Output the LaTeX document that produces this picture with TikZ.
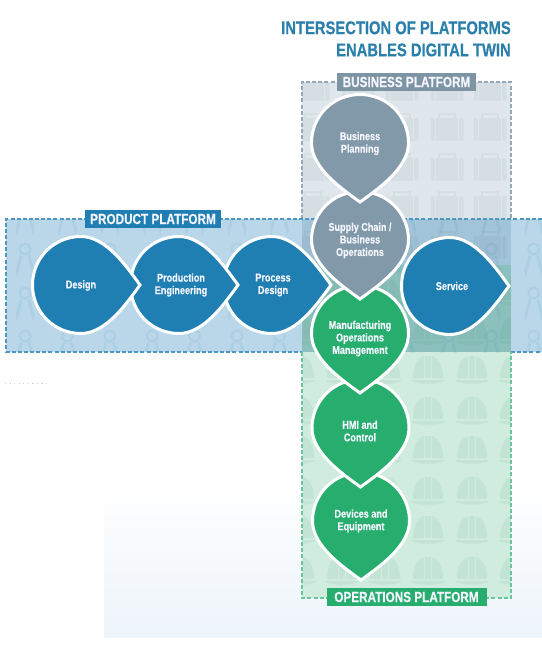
\documentclass[tikz,border=0pt]{standalone}
\usepackage{fontspec}
\setmainfont[FakeStretch=0.8,BoldFeatures={FakeStretch=0.8,FakeBold=0.35}]{Liberation Sans}
\definecolor{pblue}{HTML}{1F7FB3}
\definecolor{pgray}{HTML}{8199A8}
\definecolor{pgreen}{HTML}{27AE6E}
\definecolor{titleblue}{HTML}{2A80AB}
\definecolor{zbiz}{HTML}{DFE7EC}
\definecolor{zprod}{HTML}{B9D7E8}
\definecolor{zops}{HTML}{D0ECDF}
\definecolor{zover}{HTML}{A2C4D8}
\definecolor{zmix}{HTML}{8CC0BC}
\definecolor{washend}{HTML}{EDF4FA}
\tikzset{
  x=0.75pt,y=-0.75pt,
  dropshape/.style={draw=white,line width=2.25pt,miter limit=10,line join=miter,fill=#1},
  droptext/.style={text=white!96!blue,font=\bfseries\fontsize{8.5}{9.4}\selectfont,align=center,inner sep=0pt},
  platlabel/.style={text=white!96!blue,font=\bfseries\fontsize{11}{13}\selectfont,inner sep=0pt,minimum height=13.5pt,anchor=center},
  zoneline/.style={dashed,dash pattern=on 3pt off 1.6pt,line width=.8pt},
  iconfill/.style={fill=#1,fill opacity=.07,draw=none},
}
\newcommand{\dropat}[4]{%
  \begin{scope}[shift={(#1,#2)},rotate=#3]
    \path[dropshape=#4] (59,0) .. controls (46,-18) and (25,-48.5) .. (0,-48.5)
      .. controls (-27,-48.5) and (-48.5,-27) .. (-48.5,0)
      .. controls (-48.5,27) and (-27,48.5) .. (0,48.5)
      .. controls (25,48.5) and (46,18) .. (59,0) -- cycle;
  \end{scope}}
\newcommand{\briefcase}[2]{%
  \begin{scope}[shift={(#1,#2)}]
    \path[iconfill=pgray!70!black,rounded corners=1.5pt] (-16.5,-9) rectangle (-12,14);
    \path[iconfill=pgray!70!black] (-11,-9) rectangle (11,14);
    \path[iconfill=pgray!70!black,rounded corners=1.5pt] (12,-9) rectangle (16.5,14);
    \draw[pgray!70!black,opacity=.07,line width=1.1pt] (-8,-9) -- (-8,-13) -- (8,-13) -- (8,-9);
  \end{scope}}
\newcommand{\hardhat}[2]{%
  \begin{scope}[shift={(#1,#2)}]
    \path[iconfill=pgreen!75!black] (-15,8) .. controls (-15,-6) and (-9,-13) .. (-4,-14)
      -- (-4,8) -- cycle;
    \path[iconfill=pgreen!75!black] (-3,-14) -- (3,-14) -- (3,8) -- (-3,8) -- cycle;
    \path[iconfill=pgreen!75!black] (15,8) .. controls (15,-6) and (9,-13) .. (4,-14)
      -- (4,8) -- cycle;
    \path[iconfill=pgreen!75!black] (-17,10) -- (17,10) .. controls (15,15) and (-15,15) .. (-17,10) -- cycle;
  \end{scope}}
\newcommand{\compassicon}[2]{%
  \begin{scope}[shift={(#1,#2)}]
    \draw[pblue,opacity=.09,line width=1.5pt] (0,0) circle (5.5);
    \path[iconfill=pblue,fill opacity=.09] (-5,6) -- (-2.5,7) -- (-8,28) -- (-9.5,22) -- cycle;
    \path[iconfill=pblue,fill opacity=.09] (5,6) -- (2.5,7) -- (8,28) -- (9.5,22) -- cycle;
  \end{scope}}
\begin{document}
\begin{tikzpicture}
\useasboundingbox (0,0) rectangle (542,646);
\fill[white] (0,0) rectangle (542,646);
% lower background wash
\shade[top color=white,bottom color=washend] (104,480) rectangle (542,637);
% platform zones
\fill[zbiz] (302,82) rectangle (511,219);
\fill[zops] (302,352) rectangle (511,598);
\fill[zprod] (6,219) rectangle (542,352);
\fill[zover] (302,219) rectangle (511,265);
\fill[zmix] (302,265) rectangle (511,352);
% background icons
\begin{scope}
  \clip (302,82) rectangle (511,265);
  \foreach \cx in {313,358,402,447,490} \foreach \cy in {87,127,167,205,245} {\briefcase{\cx}{\cy}}
\end{scope}
\begin{scope}
  \clip (302,265) rectangle (511,598);
  \foreach \cx in {299,342,385,428,472,515} \foreach \cy in {292,331,370,411,450,491,530,571} {\hardhat{\cx}{\cy}}
\end{scope}
\begin{scope}
  \clip (6,219) rectangle (542,352);
  \foreach \k in {0,...,12} \foreach \cy in {207,249,293,336} {\compassicon{25+42.4*\k}{\cy}}
\end{scope}
% dashed borders
\draw[zoneline,pgray!85] (302,219) -- (302,82) -- (511,82) -- (511,219);
\draw[zoneline,pblue!80] (542,219) -- (6,219) -- (6,352) -- (302,352);
\draw[zoneline,pblue!80] (511,352) -- (542,352);
\draw[zoneline,pgreen!70] (302,352) -- (302,598) -- (511,598) -- (511,352);
\draw[dash pattern=on 1pt off 2.4pt,line width=.5pt,pgray!45] (5,383.5) -- (47,383.5);
% vertical drops, last first
\dropat{361}{521}{-90}{pgreen}
\dropat{360.5}{428}{-90}{pgreen}
\dropat{360}{334}{-90}{pgreen}
\dropat{360}{240}{-90}{pgray}
\dropat{360}{143}{-90}{pgray}
% horizontal drops, last first
\dropat{450}{286}{0}{pblue}
\dropat{272}{285}{0}{pblue}
\dropat{179}{285}{0}{pblue}
\dropat{81}{285}{0}{pblue}
% texts
\node[droptext] (biz) at (360,143.5) {Business\\Planning};
\node[droptext] (sup) at (360,240.5) {Supply Chain /\\Business\\Operations};
\node[droptext] (man) at (360,338.5) {Manufacturing\\Operations\\Management};
\node[droptext] (hmi) at (360,431) {HMI and\\Control};
\node[droptext] (dev) at (361,521) {Devices and\\Equipment};
\node[droptext] (des) at (81,285.5) {Design};
\node[droptext] (pro) at (181,285) {Production\\Engineering};
\node[droptext] (prc) at (273,285) {Process\\Design};
\node[droptext] (ser) at (452,286) {Service};
% platform labels
\node[platlabel,fill=pgray!97!black,minimum width=104pt] (lbiz) at (406.5,82) {BUSINESS PLATFORM};
\node[platlabel,fill=pblue,minimum width=102pt] (lprod) at (153,219) {PRODUCT PLATFORM};
\node[platlabel,fill=pgreen,minimum width=120pt] (lops) at (406.5,597) {OPERATIONS PLATFORM};
% title
\node[anchor=north east,align=right,inner sep=0pt,text=titleblue,font=\bfseries\fontsize{13.85}{16.6}\selectfont] (title) at (511,21) {INTERSECTION OF PLATFORMS\\ENABLES DIGITAL TWIN};
\end{tikzpicture}
\end{document}
